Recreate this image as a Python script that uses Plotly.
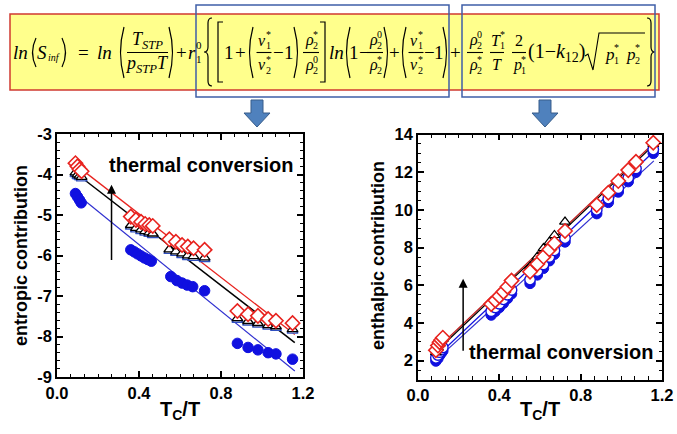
import plotly.graph_objects as go

W, H = 677, 434

# ---------------- data: entropic contribution (left) ----------------
ent_x = [0.090, 0.100, 0.110, 0.120,
         0.360, 0.385, 0.410, 0.430, 0.450, 0.467,
         0.548, 0.580, 0.610, 0.638, 0.666, 0.720,
         0.880, 0.932, 0.980, 1.030, 1.068, 1.149]
ent_diamond = [-3.72, -3.80, -3.87, -3.92,
               -5.04, -5.12, -5.17, -5.22, -5.25, -5.27,
               -5.60, -5.66, -5.74, -5.78, -5.82, -5.86,
               -7.37, -7.45, -7.49, -7.57, -7.61, -7.67]
ent_triangle = [-3.95, -4.00, -4.03, -4.06,
                -5.25, -5.32, -5.36, -5.40, -5.43, -5.46,
                -5.85, -5.90, -5.95, -6.00, -6.02, -6.05,
                -7.55, -7.62, -7.67, -7.72, -7.75, -7.82]
ent_circle_x = [0.090, 0.100, 0.110, 0.118,
                0.360, 0.377, 0.393, 0.410, 0.427, 0.443, 0.460,
                0.555, 0.585, 0.610, 0.635, 0.662, 0.720,
                0.880, 0.932, 0.980, 1.030, 1.068, 1.149]
ent_circle = [-4.47, -4.55, -4.63, -4.70,
              -5.86, -5.91, -5.96, -6.01, -6.06, -6.10, -6.14,
              -6.52, -6.62, -6.68, -6.73, -6.77, -6.87,
              -8.17, -8.27, -8.33, -8.40, -8.43, -8.56]
ent_fit_x = [0.088, 1.16]
ent_fit_red = [-3.75, -7.95]
ent_fit_black = [-3.95, -8.15]
ent_fit_blue = [-4.45, -8.85]
ent_yticks = [-9, -8, -7, -6, -5, -4, -3]
ent_yticklabels = ["-9", "-8", "-7", "-6", "-5", "-4", "-3"]

# ---------------- data: enthalpic contribution (right) ----------------
enth_x = [0.088, 0.098, 0.106, 0.114, 0.122,
          0.360, 0.380, 0.400, 0.420, 0.440, 0.460,
          0.551, 0.587, 0.617, 0.646, 0.671, 0.723,
          0.879, 0.936, 0.985, 1.034, 1.072, 1.157]
enth_diamond = [2.55, 2.80, 2.98, 3.10, 3.22,
                5.00, 5.20, 5.42, 5.65, 5.92, 6.25,
                6.72, 7.13, 7.51, 7.90, 8.22, 8.88,
                10.26, 10.91, 11.53, 12.11, 12.55, 13.56]
enth_triangle = [2.45, 2.70, 2.90, 3.05, 3.15,
                 5.05, 5.30, 5.55, 5.80, 6.05, 6.30,
                 6.98, 7.51, 7.96, 8.30, 8.66, 9.37,
                 10.30, 10.90, 11.50, 12.10, 12.55, 13.50]
enth_open = [2.15, 2.30, 2.45, 2.58, 2.70,
             4.62, 4.82, 5.02, 5.25, 5.50, 5.75,
             6.30, 6.75, 7.10, 7.50, 7.85, 8.50,
             10.00, 10.60, 11.15, 11.70, 12.20, 13.20]
enth_filled = [1.98, 2.12, 2.28, 2.40, 2.52,
               4.42, 4.62, 4.82, 5.05, 5.30, 5.55,
               6.10, 6.55, 6.90, 7.30, 7.65, 8.30,
               9.80, 10.40, 10.95, 11.50, 12.00, 13.00]
enth_fit_x = [0.085, 1.16]
enth_fit_red = [2.55, 13.55]
enth_fit_black = [2.45, 13.45]
enth_fit_blue = [2.15, 13.10]
enth_fit_blue2 = [2.00, 12.60]
x_ticks = [0.0, 0.4, 0.8, 1.2]
x_ticklabels = ["0.0", "0.4", "0.8", "1.2"]
enth_yticks = [2, 4, 6, 8, 10, 12, 14]

RED = "#e8231f"
BLUE = "#1010e0"

fig = go.Figure()

def add_lines(xa, ya, fx, fits):
    for yy, col, w in fits:
        fig.add_trace(go.Scatter(x=fx, y=yy, mode="lines", line=dict(color=col, width=w),
                                 xaxis=xa, yaxis=ya, showlegend=False, hoverinfo="skip"))

# left panel
add_lines("x", "y", ent_fit_x, [(ent_fit_blue, "#3030d0", 1.2), (ent_fit_black, "black", 1.5), (ent_fit_red, RED, 1.3)])
fig.add_trace(go.Scatter(x=ent_circle_x, y=ent_circle, mode="markers", xaxis="x", yaxis="y",
                         marker=dict(symbol="circle", size=10.5, color=BLUE, line=dict(color=BLUE, width=1)), showlegend=False))
fig.add_trace(go.Scatter(x=ent_x, y=[v - 0.04 for v in ent_triangle], mode="markers", xaxis="x", yaxis="y",
                         marker=dict(symbol="triangle-up", size=9.5, color="white", line=dict(color="#3050c0", width=1.3)), showlegend=False))
fig.add_trace(go.Scatter(x=ent_x, y=ent_triangle, mode="markers", xaxis="x", yaxis="y",
                         marker=dict(symbol="triangle-up", size=9.5, color="white", line=dict(color="black", width=1.3)), showlegend=False))
fig.add_trace(go.Scatter(x=ent_x, y=ent_diamond, mode="markers", xaxis="x", yaxis="y",
                         marker=dict(symbol="diamond", size=11, color="white", line=dict(color=RED, width=1.6)), showlegend=False))

# right panel
add_lines("x2", "y2", enth_fit_x, [(enth_fit_blue2, "#3030d0", 1.2), (enth_fit_blue, BLUE, 1.3),
                                   (enth_fit_black, "black", 1.3), (enth_fit_red, "#c02020", 1.3)])
fig.add_trace(go.Scatter(x=enth_x, y=enth_filled, mode="markers", xaxis="x2", yaxis="y2",
                         marker=dict(symbol="circle", size=10.5, color=BLUE, line=dict(color=BLUE, width=1)), showlegend=False))
fig.add_trace(go.Scatter(x=enth_x, y=enth_open, mode="markers", xaxis="x2", yaxis="y2",
                         marker=dict(symbol="circle", size=10.5, color="white", line=dict(color=BLUE, width=1.4)), showlegend=False))
fig.add_trace(go.Scatter(x=enth_x, y=enth_triangle, mode="markers", xaxis="x2", yaxis="y2",
                         marker=dict(symbol="triangle-up", size=9.5, color="white", line=dict(color="black", width=1.2)), showlegend=False))
fig.add_trace(go.Scatter(x=enth_x, y=enth_diamond, mode="markers", xaxis="x2", yaxis="y2",
                         marker=dict(symbol="diamond", size=11, color="white", line=dict(color=RED, width=1.6)), showlegend=False))

tickfont = dict(family="Liberation Sans, Arial", size=16.5, color="black", weight="bold")
ax_common = dict(showline=True, linecolor="black", linewidth=1.6, mirror="allticks", ticks="inside",
                 ticklen=6, tickwidth=1.5, tickcolor="black", showgrid=False, zeroline=False,
                 tickfont=tickfont, automargin=False)

fig.update_layout(
    width=W, height=H, margin=dict(l=0, r=0, t=0, b=0),
    paper_bgcolor="white", plot_bgcolor="white", showlegend=False,
    xaxis=dict(domain=[57 / W, 303 / W], range=[0, 1.2], tickvals=x_ticks, ticktext=x_ticklabels,
               minor=dict(dtick=0.4 / 6, tick0=0, ticks="inside", ticklen=3.5, tickwidth=1.2, tickcolor="black"),
               anchor="y", **ax_common),
    yaxis=dict(domain=[1 - 377 / H, 1 - 134 / H], range=[-9, -3], tickvals=ent_yticks, ticktext=ent_yticklabels,
               minor=dict(dtick=0.2, tick0=0, ticks="inside", ticklen=3.5, tickwidth=1.2, tickcolor="black"),
               anchor="x", **ax_common),
    xaxis2=dict(domain=[418 / W, 662 / W], range=[0, 1.2], tickvals=x_ticks, ticktext=x_ticklabels,
                minor=dict(dtick=0.4 / 6, tick0=0, ticks="inside", ticklen=3.5, tickwidth=1.2, tickcolor="black"),
                anchor="y2", **ax_common),
    yaxis2=dict(domain=[1 - 379.5 / H, 1 - 134.5 / H], range=[1, 14], tickvals=enth_yticks,
                minor=dict(dtick=0.5, tick0=0, ticks="inside", ticklen=3.5, tickwidth=1.2, tickcolor="black"),
                anchor="x2", **ax_common),
)

ann = []
shapes = []

def X(x):
    return x / W

def Y(y):
    return 1 - y / H

def T(x, y, s, size=19, anchor="center", family="Liberation Serif, Times New Roman", angle=0, weight="normal"):
    ann.append(dict(x=X(x), y=Y(y), xref="paper", yref="paper", text=s, showarrow=False,
                    xanchor=anchor, yanchor="middle", textangle=angle, borderpad=0,
                    font=dict(family=family, size=size, color="black", weight=weight)))

def pth(d, w=1.3, color="black", fill=None):
    s = dict(type="path", path=d, xref="paper", yref="paper", line=dict(color=color, width=w))
    if fill:
        s["fillcolor"] = fill
    shapes.append(s)

def pt(x, y):
    return f"{X(x):.5f},{Y(y):.5f}"

def paren(x, y0, y1, side):
    ym = (y0 + y1) / 2
    s = 1 if side == "l" else -1
    pth(f"M{pt(x + 3 * s, y0)} Q{pt(x - 4 * s, ym)} {pt(x + 3 * s, y1)}", w=1.2)

def bracket(x, y0, y1, side):
    s = 1 if side == "l" else -1
    pth(f"M{pt(x + 5 * s, y0)} L{pt(x, y0)} L{pt(x, y1)} L{pt(x + 5 * s, y1)}", w=1.2)

def brace(x, y0, y1, side):
    ym = (y0 + y1) / 2
    s = 1 if side == "l" else -1
    pth(f"M{pt(x + 4 * s, y0)} Q{pt(x, y0)} {pt(x, y0 + 5)} L{pt(x, ym - 5)} "
        f"Q{pt(x, ym)} {pt(x - 4 * s, ym)} Q{pt(x, ym)} {pt(x, ym + 5)} "
        f"L{pt(x, y1 - 5)} Q{pt(x, y1)} {pt(x + 4 * s, y1)}", w=1.2)

def hline(x0, x1, y, w=1.1):
    shapes.append(dict(type="line", xref="paper", yref="paper", x0=X(x0), x1=X(x1), y0=Y(y), y1=Y(y),
                       line=dict(color="black", width=w)))

def starred(xc, y, base, sup, sub, size=16, bw=0.5):
    wb = bw * size
    wi = 0.32 * size
    x0 = xc - (wb + wi) / 2
    T(x0, y, base, size, "left")
    T(x0 + wb, y - 0.36 * size, sup, round(size * 0.6), "left")
    T(x0 + wb, y + 0.36 * size, sub, round(size * 0.6), "left")

def frac_star(xc, num, den, w):
    starred(xc, NUM, *num)
    hline(xc - w / 2, xc + w / 2, BAR)
    starred(xc, DEN, *den)

NUM, DEN, BAR, MID = 40, 65, 52.5, 52
FS = 19

# yellow equation box
shapes.append(dict(type="rect", xref="paper", yref="paper", x0=X(10), x1=X(659), y0=Y(90), y1=Y(14),
                   fillcolor="#ffff8c", line=dict(color="#d03a30", width=1.5), layer="below"))

# equation
T(12, MID, "<i>ln</i>", FS, "left")
paren(33, 38, 67, "l")
T(36, MID, "<i>S</i>", FS, "left")
T(47, MID + 6, "<i>inf</i>", 10, "left")
paren(65, 38, 67, "r")
T(83, MID, "=", FS)
T(96, MID, "<i>ln</i>", FS, "left")
paren(121, 27, 78, "l")
T(147, NUM, "<i>T</i><sub><i>STP</i></sub>", 18)
hline(127, 168, BAR)
T(147, DEN, "<i>p</i><sub><i>STP</i></sub><i>T</i>", 18)
paren(172, 27, 78, "r")
T(181, MID, "+", FS)
starred(194, MID, "<i>r</i>", "0", "1", FS, 0.4)
brace(208, 18, 86, "l")
bracket(218, 22, 82, "l")
T(228.5, MID, "1", FS)
T(240, MID, "+", FS)
paren(250, 27, 78, "l")
frac_star(264, ("<i>v</i>", "*", "1"), ("<i>v</i>", "*", "2"), 15)
T(278.5, MID, "−", FS)
T(289, MID, "1", FS)
paren(297, 27, 78, "r")
frac_star(311, ("<i>ρ</i>", "*", "2"), ("<i>ρ</i>", "0", "2"), 16)
bracket(325, 22, 82, "r")
T(328, MID, "<i>ln</i>", FS, "left")
paren(347, 27, 78, "l")
T(354, MID, "1", FS)
T(364, MID, "−", FS)
frac_star(375, ("<i>ρ</i>", "0", "2"), ("<i>ρ</i>", "*", "2"), 16)
paren(387, 27, 78, "r")
T(395, MID, "+", FS)
paren(403, 27, 78, "l")
frac_star(416, ("<i>v</i>", "*", "1"), ("<i>v</i>", "*", "2"), 15)
T(429, MID, "−", FS)
T(439, MID, "1", FS)
paren(446, 27, 78, "r")
T(455, MID, "+", FS)
frac_star(475, ("<i>ρ</i>", "0", "2"), ("<i>ρ</i>", "*", "2"), 16)
starred(497, NUM, "<i>T</i>", "*", "1", 16, 0.56)
hline(490, 504, BAR)
T(497, DEN, "<i>T</i>", 16)
T(519, NUM, "2", 16)
hline(512, 526, BAR)
starred(519, DEN, "<i>p</i>", "*", "1")
T(557, MID, "(1−<i>k</i><sub>12</sub>)", 20)
pth(f"M{pt(585, 56)} L{pt(588, 54)} L{pt(593, 70)} L{pt(599, 33)} L{pt(645, 33)}", w=1.1)
starred(611, MID + 2, "<i>p</i>", "*", "1", 17)
starred(632, MID + 2, "<i>p</i>", "*", "2", 17)
brace(651, 18, 86, "r")

# blue boxes
for x0, x1 in [(196, 449), (462, 655)]:
    shapes.append(dict(type="rect", xref="paper", yref="paper", x0=X(x0), x1=X(x1), y0=Y(97), y1=Y(5),
                       line=dict(color="#3f5fa8", width=1.5), fillcolor="rgba(0,0,0,0)"))

# blue block arrows
for xc in [257, 545]:
    pth(f"M{pt(xc - 6, 100)} L{pt(xc + 6, 100)} L{pt(xc + 6, 113)} L{pt(xc + 13, 113)} "
        f"L{pt(xc, 127)} L{pt(xc - 13, 113)} L{pt(xc - 6, 113)} Z", w=1, color="#385d8a", fill="#4f81bd")

# axis titles
SANS = "Liberation Sans, Arial"
T(21, 256, "entropic contribution", 18, family=SANS, angle=-90, weight="bold")
T(378, 256, "enthalpic contribution", 18, family=SANS, angle=-90, weight="bold")
T(180, 410, "T<sub>C</sub>/T", 20, family=SANS, weight="bold")
T(540, 410, "T<sub>C</sub>/T", 20, family=SANS, weight="bold")

# in-plot annotations
ann.append(dict(x=0.245, y=-3.77, xref="x", yref="y", text="thermal conversion", showarrow=False,
                xanchor="left", yanchor="middle", font=dict(family=SANS, size=20, color="black", weight="bold")))
ann.append(dict(x=0.266, y=-4.25, ax=0.266, ay=-6.15, xref="x", yref="y", axref="x", ayref="y", text="",
                showarrow=True, arrowhead=2, arrowsize=1.2, arrowwidth=1.5, arrowcolor="black"))
ann.append(dict(x=0.24, y=2.47, xref="x2", yref="y2", text="thermal conversion", showarrow=False,
                xanchor="left", yanchor="middle", font=dict(family=SANS, size=20, color="black", weight="bold")))
ann.append(dict(x=0.222, y=6.35, ax=0.222, ay=2.45, xref="x2", yref="y2", axref="x2", ayref="y2", text="",
                showarrow=True, arrowhead=2, arrowsize=1.2, arrowwidth=1.5, arrowcolor="black"))

fig.update_layout(annotations=ann, shapes=shapes)
fig.write_html("out.html", config={"displayModeBar": False},
               post_script="document.body.style.margin='0px';document.body.style.overflow='hidden';")
